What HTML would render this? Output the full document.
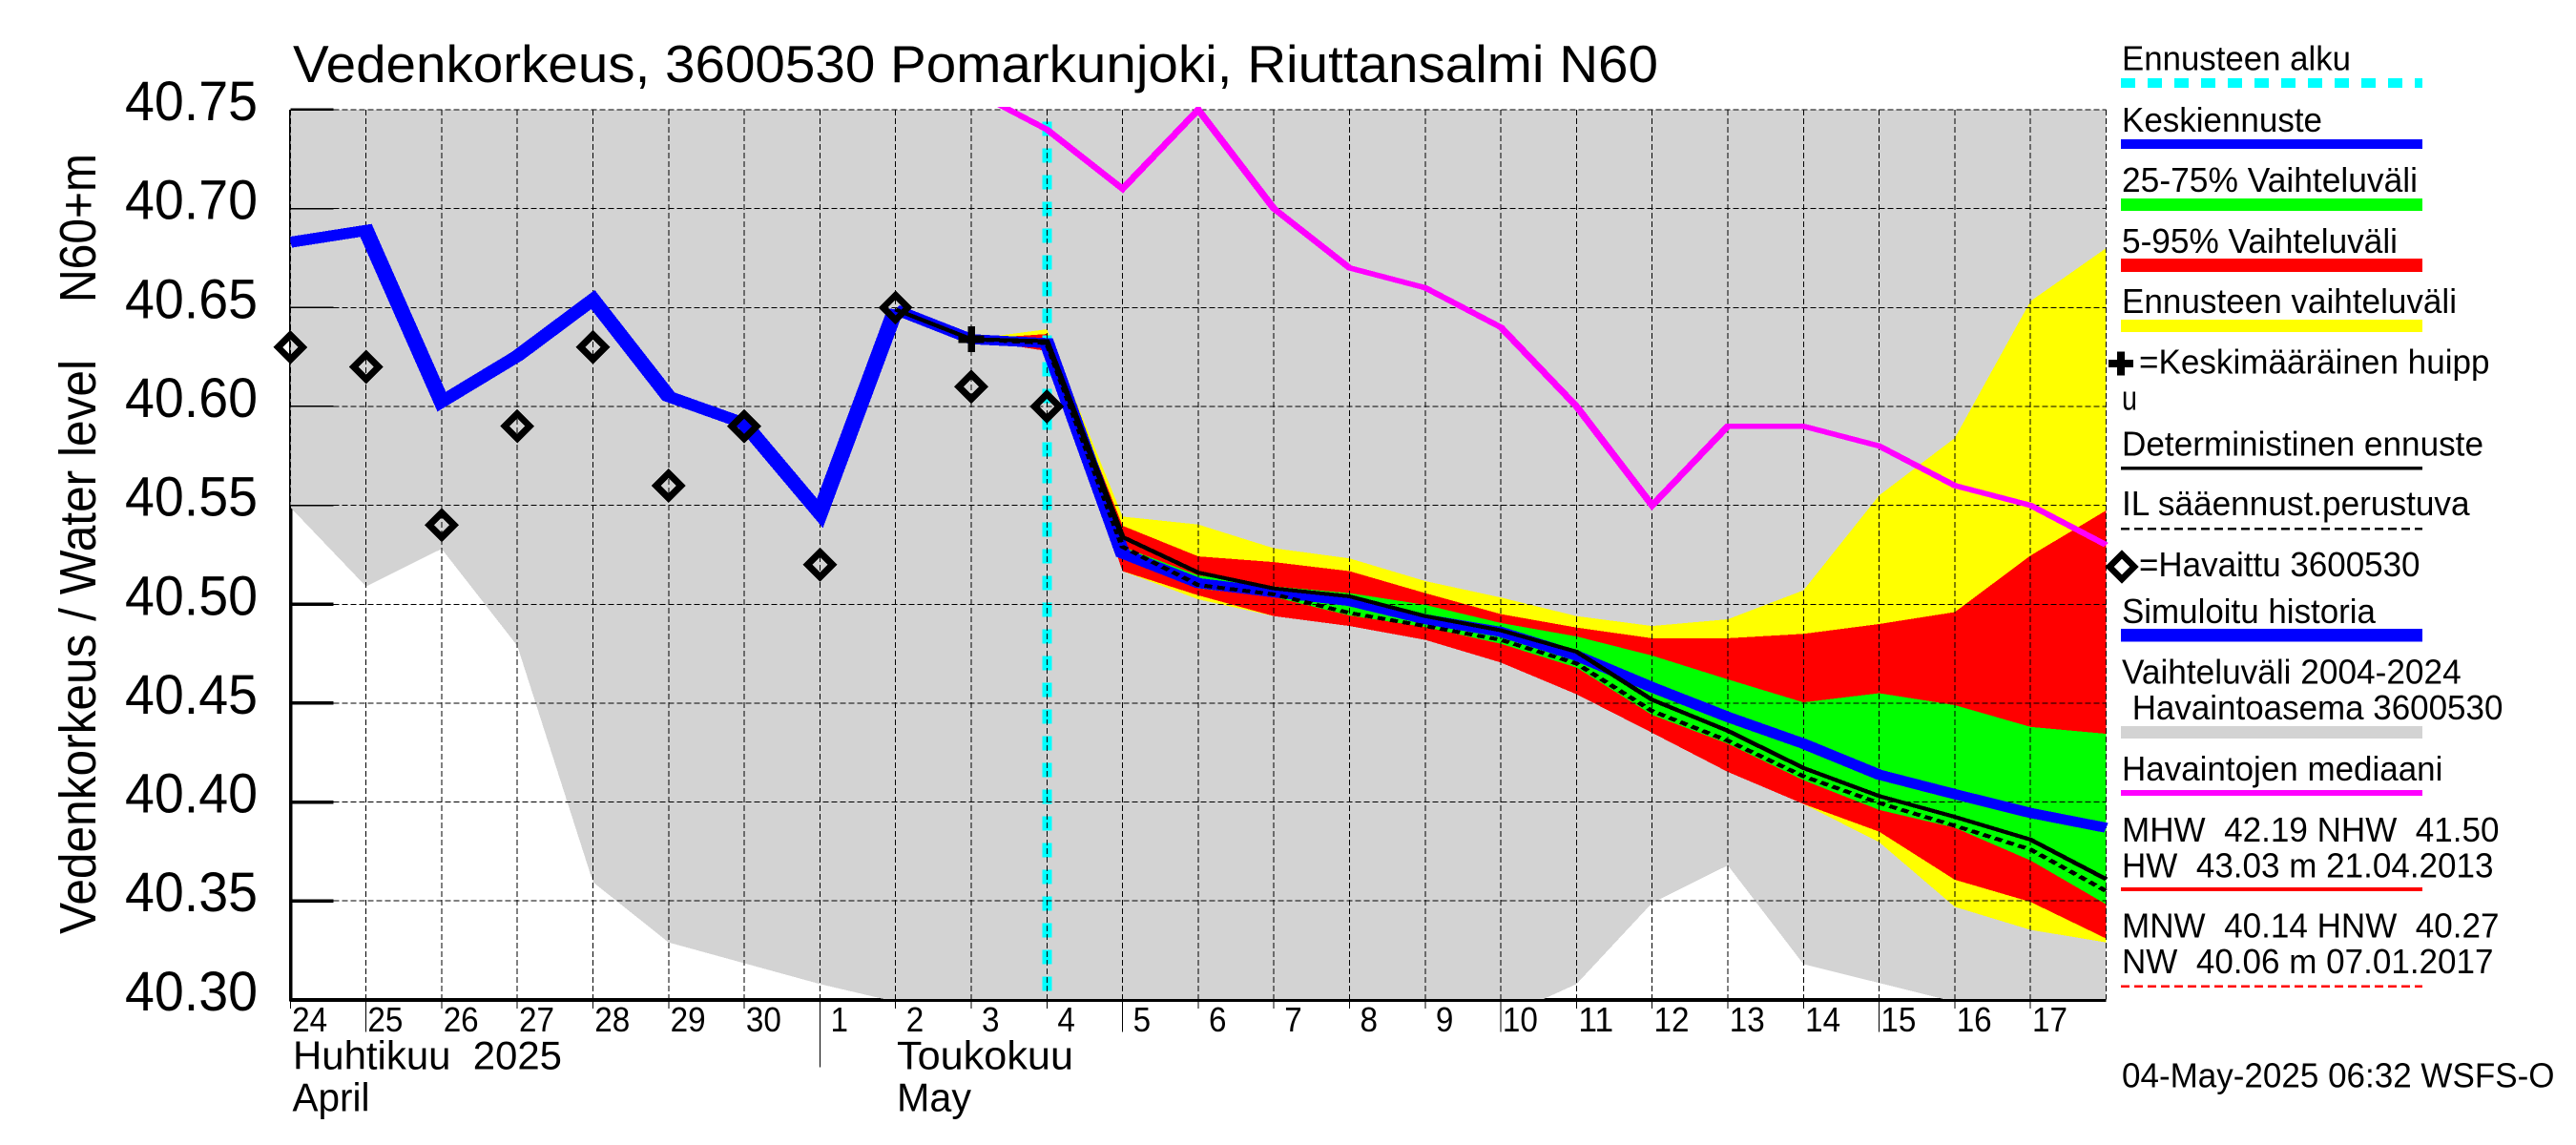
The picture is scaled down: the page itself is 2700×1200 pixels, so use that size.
<!DOCTYPE html>
<html lang="fi">
<head>
<meta charset="utf-8">
<title>Vedenkorkeus, 3600530 Pomarkunjoki, Riuttansalmi N60</title>
<style>
html,body{margin:0;padding:0;background:#fff;width:2700px;height:1200px;overflow:hidden}
svg{display:block}
text{font-family:"Liberation Sans",Arial,sans-serif;fill:#000;white-space:pre}
.lg{font-size:36px}
</style>
</head>
<body>
<svg id="chart" xmlns="http://www.w3.org/2000/svg" width="2700" height="1200" viewBox="0 0 2700 1200" shape-rendering="crispEdges">
  <defs>
    <clipPath id="plot-clip"><rect x="304.3" y="115" width="1903.2" height="932"/></clipPath>
    <clipPath id="line-clip"><rect x="304.3" y="112" width="1905.7" height="938"/></clipPath>
  </defs>
  <rect x="0" y="0" width="2700" height="1200" fill="#fff"/>
  <g id="layer-marks"></g>
  <g id="layer-labels"></g>

  <text x="307" y="86" font-size="55" textLength="1431" lengthAdjust="spacingAndGlyphs">Vedenkorkeus, 3600530 Pomarkunjoki, Riuttansalmi N60</text>
  <text transform="translate(100,979) rotate(-90)" font-size="54" textLength="602" lengthAdjust="spacingAndGlyphs">Vedenkorkeus / Water level</text>
  <text transform="translate(100,317) rotate(-90)" font-size="54" textLength="156" lengthAdjust="spacingAndGlyphs">N60+m</text>

  <text x="307" y="1120.5" font-size="42" textLength="282" lengthAdjust="spacingAndGlyphs">Huhtikuu  2025</text>
  <text x="306.5" y="1164.5" font-size="42" textLength="81" lengthAdjust="spacingAndGlyphs">April</text>
  <text x="940" y="1120.5" font-size="42" textLength="185" lengthAdjust="spacingAndGlyphs">Toukokuu</text>
  <text x="940" y="1164.5" font-size="42" textLength="78" lengthAdjust="spacingAndGlyphs">May</text>

  <g>
    <text class="lg" x="2224" y="73.5" textLength="240" lengthAdjust="spacingAndGlyphs">Ennusteen alku</text>
    <line x1="2223" y1="87" x2="2539" y2="87" stroke="#00ffff" stroke-width="10" stroke-dasharray="15,13"/>

    <text class="lg" x="2224" y="137.8" textLength="210" lengthAdjust="spacingAndGlyphs">Keskiennuste</text>
    <rect x="2223" y="146" width="316" height="10" fill="#0000ff"/>

    <text class="lg" x="2224" y="201" textLength="310" lengthAdjust="spacingAndGlyphs">25-75% Vaihteluväli</text>
    <rect x="2223" y="208" width="316" height="13" fill="#00ff00"/>

    <text class="lg" x="2224" y="265" textLength="289" lengthAdjust="spacingAndGlyphs">5-95% Vaihteluväli</text>
    <rect x="2223" y="271" width="316" height="14" fill="#ff0000"/>

    <text class="lg" x="2224" y="328" textLength="351" lengthAdjust="spacingAndGlyphs">Ennusteen vaihteluväli</text>
    <rect x="2223" y="335" width="316" height="13" fill="#ffff00"/>

    <rect x="2210" y="377" width="26" height="8" fill="#000"/>
    <rect x="2219" y="368.5" width="8" height="25" fill="#000"/>
    <text class="lg" x="2242" y="391.5" textLength="367.5" lengthAdjust="spacingAndGlyphs">=Keskimääräinen huipp</text>
    <text class="lg" x="2224" y="429.4" textLength="16" lengthAdjust="spacingAndGlyphs">u</text>

    <text class="lg" x="2224" y="477.6" textLength="379" lengthAdjust="spacingAndGlyphs">Deterministinen ennuste</text>
    <rect x="2223" y="489" width="316" height="3.5" fill="#000"/>

    <text class="lg" x="2224" y="540" textLength="364.6" lengthAdjust="spacingAndGlyphs">IL sääennust.perustuva</text>
    <line x1="2223" y1="554" x2="2539" y2="554" stroke="#000" stroke-width="2.5" stroke-dasharray="9,5"/>

    <polygon points="2224,581 2237,594 2224,607 2211,594" fill="none" stroke="#000" stroke-width="7" stroke-linejoin="miter"/>
    <text class="lg" x="2242" y="604" textLength="294.5" lengthAdjust="spacingAndGlyphs">=Havaittu 3600530</text>

    <text class="lg" x="2224" y="652.8" textLength="266" lengthAdjust="spacingAndGlyphs">Simuloitu historia</text>
    <rect x="2223" y="659" width="316" height="13.7" fill="#0000ff"/>

    <text class="lg" x="2224" y="716.7" textLength="355.7" lengthAdjust="spacingAndGlyphs">Vaihteluväli 2004-2024</text>
    <text class="lg" x="2234.7" y="753.8" textLength="388.7" lengthAdjust="spacingAndGlyphs">Havaintoasema 3600530</text>
    <rect x="2223" y="761" width="316" height="13" fill="#d3d3d3"/>

    <text class="lg" x="2224" y="818" textLength="336.4" lengthAdjust="spacingAndGlyphs">Havaintojen mediaani</text>
    <rect x="2223" y="828" width="316" height="6" fill="#ff00ff"/>

    <text class="lg" x="2224" y="882" textLength="395.5" lengthAdjust="spacingAndGlyphs">MHW  42.19 NHW  41.50</text>
    <text class="lg" x="2224" y="919.6" textLength="389.5" lengthAdjust="spacingAndGlyphs">HW  43.03 m 21.04.2013</text>
    <rect x="2223" y="930" width="316" height="4" fill="#ff0000"/>

    <text class="lg" x="2224" y="982.7" textLength="395.5" lengthAdjust="spacingAndGlyphs">MNW  40.14 HNW  40.27</text>
    <text class="lg" x="2224" y="1020" textLength="389.5" lengthAdjust="spacingAndGlyphs">NW  40.06 m 07.01.2017</text>
    <line x1="2223" y1="1033.7" x2="2539" y2="1033.7" stroke="#ff0000" stroke-width="2.5" stroke-dasharray="9,5"/>

    <text class="lg" x="2224" y="1139.6" textLength="453.5" lengthAdjust="spacingAndGlyphs">04-May-2025 06:32 WSFS-O</text>
  </g>
</svg>
<script>
// ---- category and tick data ----
const dayLabels = [24,25,26,27,28,29,30,1,2,3,4,5,6,7,8,9,10,11,12,13,14,15,16,17];
const longTickDays = [25,1,5,10,15];
const yTickValues = [40.75,40.70,40.65,40.60,40.55,40.50,40.45,40.40,40.35,40.30];
const yTickLabels = ["40.75","40.70","40.65","40.60","40.55","40.50","40.45","40.40","40.35","40.30"];

// ---- series: one value per day, first entry on 24 April ----
const historicLower = [40.549,40.509,40.528,40.479,40.3595,40.329,40.3185,40.308,40.299,40.29,40.29,40.29,40.29,40.29,40.29,40.29,40.2906,40.308,40.349,40.368,40.318,40.3085,40.299,40.29,40.28];
const simulatedHistory = [40.683,40.689,40.6024,40.6255,40.654,40.605,40.5914,40.546,40.649];
const observed = [40.63,40.62,40.54,40.59,40.63,40.56,40.59,40.52,40.65,40.61,40.60];

// ---- series starting on 2 May ----
const forecastMean = [40.649,40.634,40.632,40.5257,40.5107,40.506,40.5016,40.4924,40.486,40.474,40.458,40.443,40.4295,40.4138,40.404,40.3945,40.387];
const deterministic = [40.649,40.634,40.633,40.534,40.516,40.508,40.504,40.494,40.4868,40.476,40.4517,40.436,40.4172,40.403,40.3925,40.381,40.361];
const weatherForecast = [40.649,40.634,40.632,40.529,40.5097,40.505,40.4956,40.489,40.482,40.470,40.446,40.431,40.413,40.3995,40.388,40.376,40.355];

// ---- series starting on 3 May ----
const rangeHigh = [40.634,40.639,40.5443,40.5403,40.5283,40.5232,40.5117,40.5034,40.494,40.489,40.4924,40.507,40.555,40.584,40.6532,40.68];
const rangeLow  = [40.634,40.628,40.5167,40.5025,40.494,40.489,40.482,40.4705,40.4545,40.435,40.4152,40.399,40.3797,40.347,40.3354,40.329];
const p95 = [40.634,40.6366,40.5397,40.5242,40.5213,40.5167,40.5056,40.495,40.4882,40.4828,40.4828,40.485,40.49,40.496,40.5246,40.5474];
const p5  = [40.634,40.628,40.5167,40.5045,40.494,40.489,40.482,40.4705,40.4545,40.435,40.4152,40.399,40.385,40.3607,40.3495,40.331];
const p75 = [40.634,40.634,40.529,40.5146,40.509,40.5056,40.4997,40.4905,40.4837,40.474,40.462,40.4504,40.455,40.449,40.438,40.4345];
const p25 = [40.634,40.6294,40.5228,40.508,40.5037,40.4943,40.4885,40.480,40.468,40.444,40.4295,40.411,40.396,40.387,40.3705,40.3483];
const median = [40.76,40.74,40.71,40.75,40.70,40.67,40.66,40.64,40.60,40.55,40.59,40.59,40.58,40.56,40.55,40.53];

// ---- single events ----
const meanPeakDay = 9;
const meanPeakValue = 40.634;
const forecastStartDay = 10;
const may2Offset = 8;
const may3Offset = 9;

// ---- axis functions ----
const xLeft = 304.3, dayWidth = 79.3, yTop = 115, pxPerMetre = 2073, yMax = 40.75, yMin = 40.30;
const x = i => xLeft + dayWidth * i;
const y = v => yTop + (yMax - v) * pxPerMetre;
const xRight = x(dayLabels.length);
const yBottom = 1047.5;
const penStretch = 1.5; // the reference pen is wider horizontally than vertically

const NS = 'http://www.w3.org/2000/svg';
const marks = document.getElementById('layer-marks');
const labels = document.getElementById('layer-labels');

function make(tag, parent) {
  const e = document.createElementNS(NS, tag);
  parent.appendChild(e);
  return e;
}
function linePoints(values, offset) {
  return values.map((v, i) => (x(i + offset) / penStretch).toFixed(2) + ',' + y(v).toFixed(1)).join(' ');
}
function bandPoints(hi, lo, offset) {
  const top = hi.map((v, i) => x(i + offset).toFixed(1) + ',' + y(v).toFixed(1));
  const bottom = lo.map((v, i) => x(i + offset).toFixed(1) + ',' + y(v).toFixed(1)).reverse();
  return top.concat(bottom).join(' ');
}
function setLine(e, x1, y1, x2, y2, stroke, width, dash) {
  e.setAttribute('x1', x1);
  e.setAttribute('y1', y1);
  e.setAttribute('x2', x2);
  e.setAttribute('y2', y2);
  e.setAttribute('stroke', stroke);
  e.setAttribute('stroke-width', width);
  if (dash) e.setAttribute('stroke-dasharray', dash);
}
function setBand(e, pts, fill) {
  e.setAttribute('points', pts);
  e.setAttribute('fill', fill);
  e.setAttribute('clip-path', 'url(#plot-clip)');
}
function setPath(e, pts, stroke, width, dash) {
  e.setAttribute('points', pts);
  e.setAttribute('transform', 'scale(' + penStretch + ',1)');
  e.setAttribute('fill', 'none');
  e.setAttribute('stroke', stroke);
  e.setAttribute('stroke-width', width);
  e.setAttribute('stroke-linejoin', 'miter');
  e.setAttribute('stroke-miterlimit', 6);
  if (dash) e.setAttribute('stroke-dasharray', dash);
}

// thick axes, drawn first so the grey range partly hides them
const yAxis = make('line', marks);


setLine(yAxis, xLeft + 0.5, yTop, xLeft + 0.5, yBottom + 2, '#000', 3.5);

const xAxis = make('line', marks);


setLine(xAxis, xLeft, yBottom + 0.5, xRight, yBottom + 0.5, '#000', 4);

yTickValues.forEach(v => {
  const t = make('line', marks);
  
  
  setLine(t, xLeft, y(v), xLeft + 45, y(v), '#000', 3.5);
});

// historic range (open towards the top of the plot)
const historic = make('polygon', marks);


setBand(historic, [x(0) + ',' + (yTop - 10), x(historicLower.length - 1) + ',' + (yTop - 10)].concat(
  historicLower.map((v, i) => x(i).toFixed(1) + ',' + y(v).toFixed(1)).reverse()).join(' '), '#d3d3d3');

// forecast bands
const bandYellow = make('polygon', marks);


setBand(bandYellow, bandPoints(rangeHigh, rangeLow, may3Offset), '#ffff00');

const bandRed = make('polygon', marks);


setBand(bandRed, bandPoints(p95, p5, may3Offset), '#ff0000');

const bandGreen = make('polygon', marks);


setBand(bandGreen, bandPoints(p75, p25, may3Offset), '#00ff00');

// forecast start marker
const startLine = make('line', marks);


setLine(startLine, x(forecastStartDay), 127.5, x(forecastStartDay), yBottom, '#00ffff', 10, '15,13');

// grid
for (let i = 0; i <= dayLabels.length; i++) {
  const g = make('line', marks);
  
  
  setLine(g, x(i), yTop, x(i), yBottom, '#000', 1, '6,3');
}
yTickValues.forEach(v => {
  const g = make('line', marks);
  
  
  setLine(g, xLeft, y(v), xRight, y(v), '#000', 1, '6,3');

  const t = make('line', marks);
  
  
  setLine(t, xLeft, y(v), xLeft + 45, y(v), '#000', 1.5);
});

// x ticks below the axis
dayLabels.forEach((d, i) => {
  const t = make('line', marks);
  
  
  const len = d === 1 ? 1118.6 : (longTickDays.indexOf(d) >= 0 ? 1081.5 : 1057);
  setLine(t, x(i), yBottom, x(i), len, '#000', 1);
});

// series lines, clipped by a wrapping group
const seriesGroup = make('g', marks);


seriesGroup.setAttribute('clip-path', 'url(#line-clip)');

const simLine = make('polyline', seriesGroup);


setPath(simLine, linePoints(simulatedHistory, 0), '#0000ff', 11.5);

const meanLine = make('polyline', seriesGroup);


setPath(meanLine, linePoints(forecastMean, may2Offset), '#0000ff', 10.5);

const detLine = make('polyline', seriesGroup);


setPath(detLine, linePoints(deterministic, may2Offset), '#000', 4);

const ilLine = make('polyline', seriesGroup);


setPath(ilLine, linePoints(weatherForecast, may2Offset), '#000', 4, '5.5,3.5');

const medianLine = make('polyline', seriesGroup);


setPath(medianLine, linePoints(median, may3Offset), '#ff00ff', 5.5);

// mean peak marker
const peakH = make('line', marks);


setLine(peakH, x(meanPeakDay) - 13.5, y(meanPeakValue), x(meanPeakDay) + 13.5, y(meanPeakValue), '#000', 8);

const peakV = make('line', marks);


setLine(peakV, x(meanPeakDay), y(meanPeakValue) - 13.5, x(meanPeakDay), y(meanPeakValue) + 13.5, '#000', 7.5);

// observations
observed.forEach((v, i) => {
  const d = make('polygon', marks);
  
  
  const r = 13, cx = x(i), cy = y(v);
  d.setAttribute('points', [cx + ',' + (cy - r), (cx + r) + ',' + cy, cx + ',' + (cy + r), (cx - r) + ',' + cy].join(' '));
  d.setAttribute('fill', 'none');
  d.setAttribute('stroke', '#000');
  d.setAttribute('stroke-width', 7);
});

// tick labels
yTickValues.forEach((v, i) => {
  const t = make('text', labels);
  
  
  t.setAttribute('x', 131);
  t.setAttribute('y', y(v) + 11);
  t.setAttribute('font-size', 58);
  t.setAttribute('textLength', 139);
  t.setAttribute('lengthAdjust', 'spacingAndGlyphs');
  t.textContent = yTickLabels[i];
});
dayLabels.forEach((d, i) => {
  const t = make('text', labels);
  
  
  const s = String(d);
  const w = s.length === 2 ? 37 : 18.5;
  t.setAttribute('x', x(i) + 20.3 - w / 2);
  t.setAttribute('y', 1081);
  t.setAttribute('font-size', 36);
  t.setAttribute('textLength', w);
  t.setAttribute('lengthAdjust', 'spacingAndGlyphs');
  t.textContent = s;
});
</script>
</body>
</html>
